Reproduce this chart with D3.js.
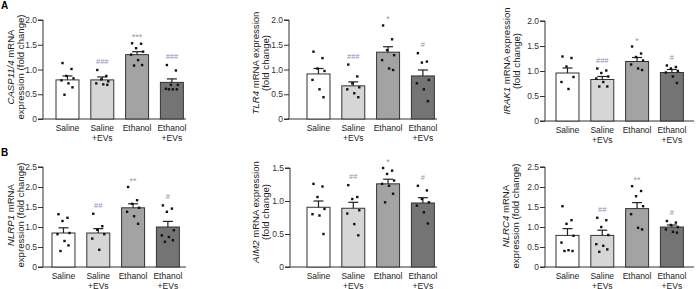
<!DOCTYPE html>
<html lang="en">
<head>
<meta charset="UTF-8">
<title>mRNA expression panels</title>
<script src="https://d3js.org/d3.v7.min.js"></script>
<style>
  body { margin: 0; background: #fff; }
  text { font-family: "Liberation Sans", Arial, sans-serif; }
  .tick text { font-size: 8.5px; fill: #333; }
  .cat { font-size: 8.5px; fill: #222; }
  .ylab { font-size: 9.6px; fill: #222; }
</style>
</head>
<body>
<svg width="697" height="289"></svg>
<script>
const categories = ["Saline", "Saline+EVs", "Ethanol", "Ethanol+EVs"];
const fills = ["#ffffff", "#d6d6d6", "#a3a3a3", "#747474"];

// CASP11/4
const caspMean = [0.79, 0.79, 1.30, 0.74];
const caspErr = [0.87, 0.85, 1.36, 0.81];
const caspDots = [
  [1.13, 1.01, 0.87, 0.82, 0.78, 0.72, 0.64, 0.49],
  [0.99, 0.87, 0.80, 0.76, 0.72, 0.70, 0.69],
  [1.53, 1.52, 1.43, 1.36, 1.30, 1.19, 1.09, 1.08],
  [1.09, 0.98, 0.69, 0.69, 0.61, 0.60, 0.60, 0.60]
];
const caspSig = ["", "###", "***", "###"];

// TLR4
const tlrMean = [0.91, 0.67, 1.35, 0.87];
const tlrErr = [1.02, 0.75, 1.46, 0.99];
const tlrDots = [
  [1.36, 1.23, 1.02, 0.97, 0.79, 0.60, 0.44],
  [1.10, 0.86, 0.72, 0.64, 0.60, 0.52, 0.44],
  [1.89, 1.61, 1.39, 1.29, 1.19, 1.02, 0.99],
  [1.33, 1.16, 1.14, 0.79, 0.72, 0.60, 0.36]
];
const tlrSig = ["", "###", "*", "#"];

// IRAK1
const irakMean = [0.96, 0.83, 1.19, 0.97];
const irakErr = [1.06, 0.89, 1.27, 1.03];
const irakDots = [
  [1.29, 1.26, 1.09, 0.88, 0.78, 0.64],
  [1.05, 1.01, 0.96, 0.89, 0.85, 0.78, 0.69, 0.69],
  [1.49, 1.35, 1.28, 1.21, 1.13, 1.05, 1.02],
  [1.11, 1.08, 1.05, 1.00, 0.97, 0.89, 0.76]
];
const irakSig = ["", "###", "*", "#"];

// NLRP1
const nlrpMean = [0.85, 0.85, 1.48, 1.00];
const nlrpErr = [0.98, 0.96, 1.58, 1.14];
const nlrpDots = [
  [1.32, 1.23, 1.15, 0.85, 0.82, 0.65, 0.54, 0.40],
  [1.33, 1.02, 0.93, 0.82, 0.71, 0.43],
  [2.00, 1.67, 1.58, 1.48, 1.38, 1.27, 1.08],
  [1.54, 1.46, 1.38, 0.92, 0.79, 0.75, 0.67, 0.63]
];
const nlrpSig = ["", "##", "**", "#"];

// AIM2
const aimMean = [0.905, 0.89, 1.26, 0.97];
const aimErr = [1.00, 0.98, 1.33, 1.05];
const aimDots = [
  [1.26, 1.22, 1.06, 0.88, 0.80, 0.78, 0.50],
  [1.24, 1.06, 1.03, 0.86, 0.81, 0.65, 0.48],
  [1.50, 1.46, 1.41, 1.31, 1.26, 1.23, 1.11, 0.98],
  [1.23, 1.16, 1.03, 0.98, 0.93, 0.83, 0.66]
];
const aimSig = ["", "##", "*", "#"];

// NLRC4
const nlrcMean = [0.79, 0.79, 1.46, 1.00];
const nlrcErr = [0.96, 0.92, 1.61, 1.05];
const nlrcDots = [
  [1.52, 1.17, 1.08, 0.78, 0.61, 0.42, 0.40, 0.40],
  [1.23, 1.17, 1.00, 0.80, 0.57, 0.53, 0.44, 0.38],
  [2.02, 1.90, 1.77, 1.52, 1.32, 0.98, 0.94],
  [1.15, 1.11, 1.05, 1.00, 0.94, 0.88, 0.86]
];
const nlrcSig = ["", "##", "**", "#"];

const panels = [
  { gene: "CASP11/4", lines: ["mRNA", "expression (fold change)"], mean: caspMean, err: caspErr, dots: caspDots, sig: caspSig,
    max: 2.0, ticks: [0, 0.5, 1.0, 1.5, 2.0], ax: 43, yTop: 20, y0: 119, bar0: 56, xEnd: 186, lx: 13.5, lc: 67 },
  { gene: "TLR4", lines: ["mRNA expression", "(fold change)"], mean: tlrMean, err: tlrErr, dots: tlrDots, sig: tlrSig,
    max: 2.0, ticks: [0, 0.5, 1.0, 1.5, 2.0], ax: 289, yTop: 20, y0: 119, bar0: 307, xEnd: 437, lx: 259, lc: 63 },
  { gene: "IRAK1", lines: ["mRNA expression", "(fold change)"], mean: irakMean, err: irakErr, dots: irakDots, sig: irakSig,
    max: 2.0, ticks: [0, 0.5, 1.0, 1.5, 2.0], ax: 545, yTop: 21, y0: 121, bar0: 556, xEnd: 694, lx: 510, lc: 61 },
  { gene: "NLRP1", lines: ["mRNA", "expression (fold change)"], mean: nlrpMean, err: nlrpErr, dots: nlrpDots, sig: nlrpSig,
    max: 2.5, ticks: [0, 0.5, 1.0, 1.5, 2.0, 2.5], ax: 43, yTop: 167, y0: 267, bar0: 52, xEnd: 186, lx: 13.5, lc: 215 },
  { gene: "AIM2", lines: ["mRNA expression", "(fold change)"], mean: aimMean, err: aimErr, dots: aimDots, sig: aimSig,
    max: 1.5, ticks: [0, 0.5, 1.0, 1.5], ax: 290, yTop: 168, y0: 267, bar0: 307, xEnd: 437, lx: 259, lc: 212 },
  { gene: "NLRC4", lines: ["mRNA", "expression (fold change)"], mean: nlrcMean, err: nlrcErr, dots: nlrcDots, sig: nlrcSig,
    max: 2.5, ticks: [0, 0.5, 1.0, 1.5, 2.0, 2.5], ax: 545, yTop: 167, y0: 267, bar0: 556, xEnd: 694, lx: 508.5, lc: 216 }
];

const svg = d3.select("svg");
svg.append("rect").attr("width", 697).attr("height", 289).attr("fill", "#fff");

svg.append("text").attr("x", 1).attr("y", 9).attr("font-size", 10).attr("font-weight", "bold").text("A");
svg.append("text").attr("x", 1).attr("y", 156).attr("font-size", 10).attr("font-weight", "bold").text("B");

const step = 34.8;
const jitter = [-5, 4, -1, 6, -6, 1, 5, -3];

panels.forEach(p => {
  const g = svg.append("g");
  const y = d3.scaleLinear().domain([0, p.max]).range([p.y0, p.yTop]);
  const start = p.bar0 - step * 0.17;
  const x = d3.scaleBand().domain(categories)
    .range([start, start + 4 * step]).paddingInner(0.34).paddingOuter(0.17);
  const bw = x.bandwidth();

  // y axis
  const yAxis = d3.axisLeft(y).tickValues(p.ticks).tickSize(5).tickPadding(1)
    .tickFormat(d => d === 0 ? "0" : d3.format(".1f")(d));
  const ya = g.append("g").attr("transform", `translate(${p.ax},0)`).call(yAxis);
  ya.select(".domain").attr("stroke", "#333").attr("d", `M-5,${y(p.max)}H0V${y(0)}H-5`);
  ya.selectAll(".tick line").attr("stroke", "#333");

  // x axis line
  g.append("line").attr("x1", p.ax).attr("x2", p.xEnd).attr("y1", p.y0).attr("y2", p.y0)
    .attr("stroke", "#333").attr("stroke-width", 1);

  categories.forEach((c, i) => {
    const bx = x(c);
    const cx = bx + bw / 2;
    g.append("rect").attr("x", bx).attr("y", y(p.mean[i])).attr("width", bw)
      .attr("height", y(0) - y(p.mean[i])).attr("fill", fills[i])
      .attr("stroke", "#333").attr("stroke-width", 1);
    // error bar (upper)
    g.append("line").attr("x1", cx).attr("x2", cx).attr("y1", y(p.mean[i])).attr("y2", y(p.err[i]))
      .attr("stroke", "#222").attr("stroke-width", 1.2);
    g.append("line").attr("x1", cx - 5).attr("x2", cx + 5).attr("y1", y(p.err[i])).attr("y2", y(p.err[i]))
      .attr("stroke", "#222").attr("stroke-width", 1.2);
    // dots
    p.dots[i].forEach((v, k) => {
      g.append("rect").attr("x", cx + jitter[k % jitter.length] - 1.2).attr("y", y(v) - 1.2)
        .attr("width", 2.4).attr("height", 2.4).attr("fill", "#111");
    });
    // significance
    if (p.sig[i]) {
      const top = d3.max(p.dots[i].concat([p.err[i]]));
      const star = p.sig[i].startsWith("*");
      g.append("text").attr("x", cx).attr("y", y(top) - (star ? 3 : 6)).attr("text-anchor", "middle")
        .attr("font-size", star ? 9 : 7.5)
        .attr("fill", star ? "#9a9a9a" : "#8f93b8")
        .text(p.sig[i]);
    }
    // category label
    const parts = c.includes("+") ? [c.split("+")[0], "+EVs"] : [c];
    parts.forEach((t, j) => {
      g.append("text").attr("class", "cat").attr("x", cx).attr("y", p.y0 + 12 + j * 9.5)
        .attr("text-anchor", "middle").text(t);
    });
  });

  // y label
  const lab = g.append("text").attr("class", "ylab")
    .attr("transform", `translate(${p.lx},${p.lc}) rotate(-90)`).attr("text-anchor", "middle");
  const l1 = lab.append("tspan").attr("x", 0).attr("dy", 0);
  l1.append("tspan").attr("font-style", "italic").text(p.gene);
  l1.append("tspan").text(" " + p.lines[0]);
  lab.append("tspan").attr("x", 0).attr("dy", 10).text(p.lines[1]);
});
</script>
</body>
</html>
